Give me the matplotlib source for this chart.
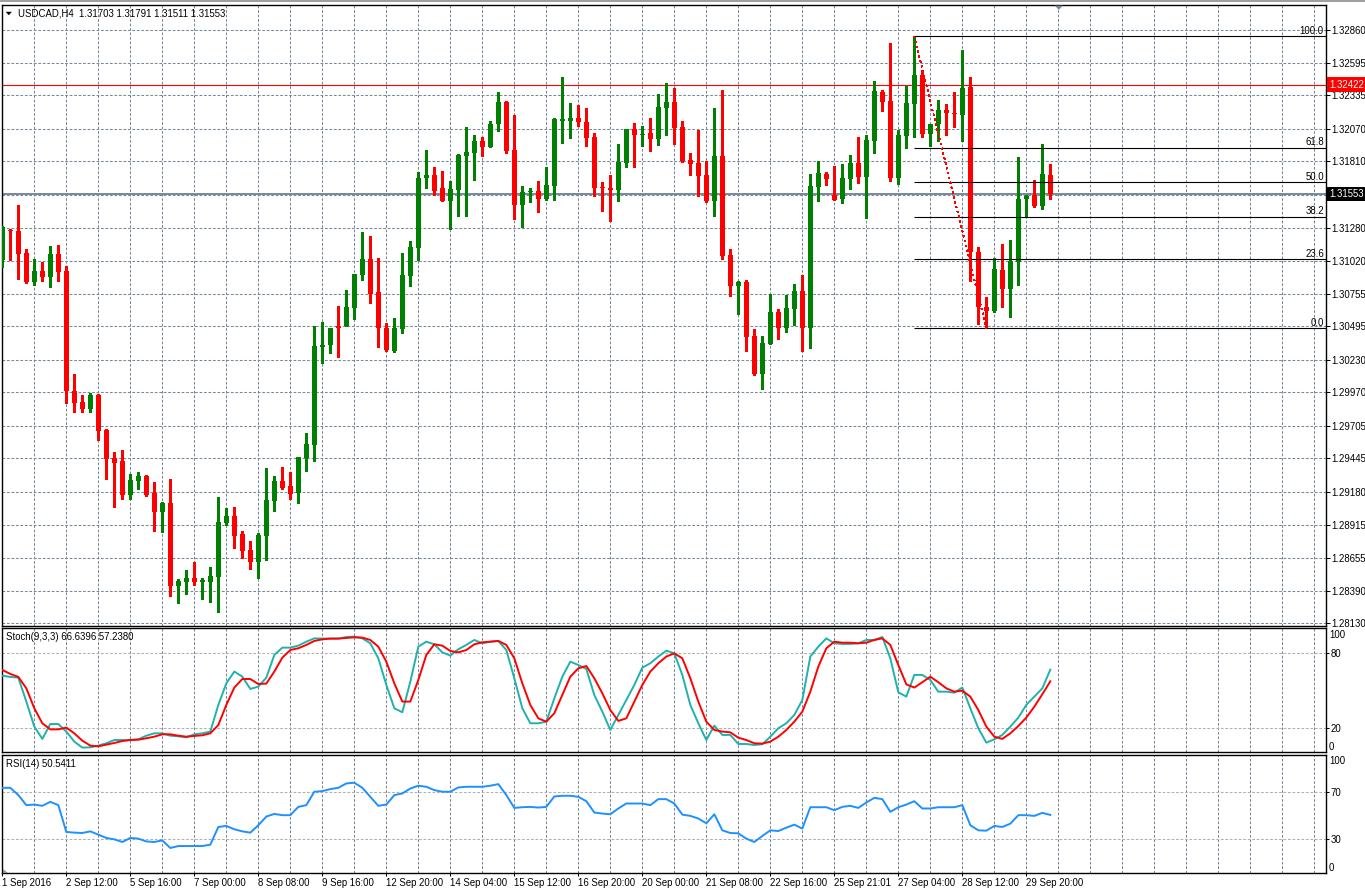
import numpy as np
import matplotlib
matplotlib.use('Agg')
import matplotlib.pyplot as plt
from matplotlib.transforms import blended_transform_factory
from matplotlib.patches import Polygon

plt.rcParams['font.family'] = ['Liberation Sans', 'DejaVu Sans']

W, H = 1365, 892

# USDCAD H4 candles, one per bar (bar 0 = 1 Sep 2016)
open_ = [1.31022, 1.31266, 1.31253, 1.31080, 1.30851, 1.30936, 1.30891, 1.31070, 1.30936, 1.29985,
         1.29890, 1.29839, 1.29948, 1.29668, 1.29445, 1.29421, 1.29153, 1.29266, 1.29302, 1.29168,
         1.29019, 1.29086, 1.28428, 1.28457, 1.28489, 1.28460, 1.28460, 1.28500, 1.28933, 1.28985,
         1.28839, 1.28714, 1.28619, 1.28826, 1.29107, 1.29262, 1.29223, 1.29171, 1.29445, 1.29552,
         1.30333, 1.30348, 1.30497, 1.30497, 1.30641, 1.30906, 1.31031, 1.30769, 1.30482, 1.30299,
         1.30473, 1.30900, 1.31122, 1.31680, 1.31702, 1.31598, 1.31497, 1.31580, 1.31854, 1.31875,
         1.31973, 1.31927, 1.32107, 1.32281, 1.31900, 1.31464, 1.31570, 1.31574, 1.31510, 1.31613,
         1.32135, 1.32132, 1.32156, 1.32122, 1.32003, 1.31607, 1.31598, 1.31580, 1.31796, 1.32068,
         1.32022, 1.32034, 1.31988, 1.32235, 1.32281, 1.32083, 1.31820, 1.31796, 1.31702, 1.31494,
         1.31851, 1.31064, 1.30820, 1.30848, 1.30418, 1.30116, 1.30357, 1.30610, 1.30482, 1.30635,
         1.30778, 1.30482, 1.31607, 1.31708, 1.31540, 1.31510, 1.31671, 1.31796, 1.31686, 1.31973,
         1.32363, 1.32290, 1.31677, 1.32013, 1.32269, 1.32500, 1.32028, 1.32110, 1.32220, 1.32199,
         1.32180, 1.32403, 1.31086, 1.30653, 1.30619, 1.30942, 1.30796, 1.31010, 1.31507, 1.31540,
         1.31458, 1.31703]
high = [1.31296, 1.31275, 1.31461, 1.31110, 1.31031, 1.31006, 1.31135, 1.31144, 1.30976, 1.30116,
        1.29951, 1.29964, 1.29955, 1.29680, 1.29494, 1.29509, 1.29323, 1.29336, 1.29314, 1.29253,
        1.29101, 1.29278, 1.28487, 1.28553, 1.28617, 1.28489, 1.28577, 1.29140, 1.29046, 1.29055,
        1.28863, 1.28787, 1.28848, 1.29369, 1.29302, 1.29378, 1.29336, 1.29455, 1.29644, 1.30497,
        1.30534, 1.30482, 1.30656, 1.30784, 1.30912, 1.31247, 1.31214, 1.31040, 1.30522, 1.30564,
        1.31080, 1.31174, 1.31723, 1.31903, 1.31766, 1.31732, 1.31656, 1.31869, 1.32083, 1.32022,
        1.32006, 1.32135, 1.32363, 1.32290, 1.32180, 1.31613, 1.31601, 1.31653, 1.31766, 1.32156,
        1.32482, 1.32275, 1.32260, 1.32235, 1.32034, 1.31644, 1.31702, 1.31952, 1.32071, 1.32113,
        1.32089, 1.32156, 1.32348, 1.32433, 1.32394, 1.32132, 1.31875, 1.32058, 1.31811, 1.32235,
        1.32382, 1.31110, 1.30860, 1.30863, 1.30476, 1.30418, 1.30750, 1.30631, 1.30744, 1.30836,
        1.30903, 1.31708, 1.31814, 1.31723, 1.31772, 1.31793, 1.31860, 1.32006, 1.32019, 1.32446,
        1.32378, 1.32754, 1.32058, 1.32412, 1.32805, 1.32537, 1.32110, 1.32299, 1.32263, 1.32363,
        1.32699, 1.32482, 1.31128, 1.30732, 1.31043, 1.31153, 1.31183, 1.31845, 1.31540, 1.31665,
        1.31949, 1.31791]
low = [1.30970, 1.31022, 1.30875, 1.30839, 1.30823, 1.30860, 1.30811, 1.30860, 1.29884, 1.29811,
       1.29811, 1.29811, 1.29595, 1.29281, 1.29055, 1.29122, 1.29122, 1.29201, 1.29144, 1.28866,
       1.28857, 1.28351, 1.28293, 1.28367, 1.28439, 1.28325, 1.28301, 1.28221, 1.28918, 1.28729,
       1.28650, 1.28561, 1.28491, 1.28637, 1.29028, 1.29198, 1.29122, 1.29086, 1.29345, 1.29424,
       1.30205, 1.30284, 1.30253, 1.30497, 1.30558, 1.30863, 1.30680, 1.30330, 1.30299, 1.30290,
       1.30442, 1.30817, 1.31025, 1.31601, 1.31540, 1.31497, 1.31272, 1.31378, 1.31378, 1.31662,
       1.31854, 1.31927, 1.32052, 1.31875, 1.31351, 1.31287, 1.31488, 1.31409, 1.31500, 1.31500,
       1.31955, 1.31994, 1.32089, 1.31930, 1.31534, 1.31415, 1.31339, 1.31494, 1.31769, 1.31763,
       1.31936, 1.31891, 1.31939, 1.32019, 1.31952, 1.31805, 1.31702, 1.31537, 1.31488, 1.31378,
       1.31031, 1.30738, 1.30595, 1.30302, 1.30107, 1.29997, 1.30357, 1.30397, 1.30452, 1.30506,
       1.30296, 1.30327, 1.31497, 1.31625, 1.31500, 1.31479, 1.31589, 1.31641, 1.31360, 1.31878,
       1.32214, 1.31656, 1.31628, 1.31918, 1.32006, 1.32006, 1.31933, 1.31973, 1.32019, 1.32086,
       1.31973, 1.30860, 1.30513, 1.30482, 1.30610, 1.30653, 1.30573, 1.30823, 1.31363, 1.31448,
       1.31433, 1.31511]
close = [1.31290, 1.31253, 1.31074, 1.30848, 1.30936, 1.30891, 1.31070, 1.30930, 1.29979, 1.29887,
         1.29839, 1.29948, 1.29665, 1.29439, 1.29406, 1.29153, 1.29272, 1.29302, 1.29153, 1.29019,
         1.29086, 1.28430, 1.28465, 1.28489, 1.28460, 1.28473, 1.28505, 1.28942, 1.28988, 1.28826,
         1.28704, 1.28619, 1.28832, 1.29110, 1.29262, 1.29207, 1.29162, 1.29455, 1.29558, 1.30339,
         1.30345, 1.30482, 1.30485, 1.30650, 1.30912, 1.31031, 1.30756, 1.30482, 1.30305, 1.30482,
         1.30903, 1.31128, 1.31677, 1.31702, 1.31577, 1.31497, 1.31589, 1.31860, 1.31885, 1.31973,
         1.31927, 1.32107, 1.32281, 1.31891, 1.31464, 1.31564, 1.31577, 1.31510, 1.31622, 1.32147,
         1.32144, 1.32156, 1.32122, 1.31997, 1.31598, 1.31601, 1.31580, 1.31805, 1.32071, 1.32019,
         1.32031, 1.31988, 1.32241, 1.32281, 1.32074, 1.31811, 1.31790, 1.31692, 1.31494, 1.31851,
         1.31058, 1.30820, 1.30848, 1.30412, 1.30116, 1.30363, 1.30610, 1.30482, 1.30641, 1.30778,
         1.30482, 1.31613, 1.31717, 1.31671, 1.31500, 1.31677, 1.31796, 1.31686, 1.31979, 1.32369,
         1.32284, 1.31677, 1.32022, 1.32278, 1.32500, 1.32028, 1.32110, 1.32220, 1.32199, 1.32189,
         1.32394, 1.31089, 1.30653, 1.30619, 1.30951, 1.30796, 1.31019, 1.31510, 1.31534, 1.31458,
         1.31708, 1.31553]

stoch_k = [61.8, 60.8, 60.2, 40.9, 20.7, 10.8, 22.8, 22.8, 16.7, 8.6,
           3.8, 4.0, 5.4, 7.3, 9.9, 9.9, 9.9, 10.5, 13.4, 15.3,
           15.3, 13.4, 12.9, 12.1, 14.5, 15.3, 16.7, 38.2, 55.6, 65.1,
           61.0, 51.1, 53.0, 60.2, 78.5, 84.4, 84.4, 86.0, 89.2, 91.9,
           91.7, 91.7, 91.7, 93.0, 93.3, 91.9, 87.9, 75.8, 54.3, 35.5,
           32.3, 57.0, 85.2, 89.2, 87.1, 80.6, 78.0, 83.1, 86.6, 90.6,
           87.9, 89.2, 89.8, 82.5, 59.7, 35.5, 23.4, 23.4, 24.7, 43.5,
           61.0, 73.1, 70.4, 67.2, 46.2, 32.8, 18.0, 30.1, 42.2, 54.3,
           68.3, 71.8, 77.2, 82.0, 79.8, 62.4, 38.2, 23.4, 9.9, 21.5,
           14.0, 14.0, 6.7, 6.7, 5.9, 6.5, 12.6, 19.4, 23.4, 30.1,
           42.2, 77.2, 85.2, 91.9, 87.9, 87.4, 87.4, 87.9, 90.6, 90.6,
           93.0, 75.8, 48.4, 44.9, 62.4, 62.4, 58.3, 48.9, 48.9, 48.1,
           52.2, 35.5, 19.4, 7.8, 10.5, 14.0, 20.7, 28.0, 38.2, 44.9,
           51.6, 66.6396]
stoch_d = [66.4, 63.2, 60.8, 51.6, 35.5, 23.4, 18.5, 18.5, 19.9, 15.3,
           9.4, 5.4, 4.8, 6.2, 7.5, 9.1, 9.9, 10.2, 11.3, 12.6,
           14.5, 14.5, 13.4, 12.6, 13.2, 13.7, 15.3, 22.0, 38.2, 52.2,
           59.1, 59.1, 55.1, 55.4, 65.1, 76.3, 82.5, 83.9, 86.6, 89.8,
           91.1, 91.7, 91.7, 92.2, 92.7, 92.5, 90.6, 85.2, 73.1, 55.6,
           40.9, 40.9, 58.3, 78.5, 87.1, 86.0, 81.7, 80.6, 82.5, 87.1,
           88.7, 89.2, 89.8, 86.6, 75.8, 55.6, 38.2, 27.4, 24.7, 31.5,
           46.2, 61.0, 67.7, 69.6, 59.7, 47.6, 34.1, 25.3, 27.4, 40.9,
           54.3, 65.1, 71.8, 77.2, 79.8, 75.8, 59.7, 40.9, 24.7, 18.0,
           16.7, 16.1, 11.8, 9.9, 7.3, 7.0, 8.6, 12.6, 18.0, 24.7,
           32.8, 48.9, 69.1, 83.9, 89.2, 88.4, 88.4, 87.9, 88.4, 90.6,
           91.9, 86.6, 70.4, 54.8, 52.2, 56.5, 61.0, 56.5, 51.6, 48.9,
           49.7, 44.9, 34.1, 20.7, 12.6, 10.8, 15.3, 21.2, 28.0, 36.8,
           46.8, 57.2380]
rsi = [74.0, 74.0, 67.7, 59.0, 59.5, 58.4, 61.9, 59.0, 35.8, 35.2,
       34.9, 36.3, 33.4, 30.6, 29.4, 27.1, 30.6, 30.0, 27.6, 27.1,
       28.5, 21.9, 23.6, 23.6, 23.6, 23.6, 24.8, 40.1, 41.0, 38.1,
       36.3, 35.2, 41.6, 49.1, 51.4, 50.3, 50.3, 57.5, 59.0, 70.6,
       71.1, 72.9, 74.0, 77.8, 78.4, 74.0, 66.2, 58.4, 59.5, 67.7,
       69.1, 73.4, 75.8, 74.9, 72.0, 70.6, 70.6, 74.3, 74.9, 74.9,
       74.9, 75.8, 77.2, 67.7, 56.6, 57.2, 57.5, 56.9, 57.5, 66.5,
       67.1, 67.1, 66.2, 62.4, 52.6, 51.7, 51.1, 56.1, 60.4, 60.4,
       60.4, 59.0, 64.2, 64.2, 60.4, 50.8, 49.7, 47.4, 43.3, 51.1,
       37.2, 34.9, 34.6, 30.0, 27.1, 32.3, 37.2, 36.6, 39.5, 42.1,
       38.7, 57.2, 57.2, 57.2, 54.6, 57.5, 58.4, 56.6, 61.3, 65.3,
       64.2, 53.2, 57.2, 59.5, 62.4, 56.1, 56.1, 57.2, 57.2, 57.2,
       59.0, 41.6, 37.2, 36.9, 41.0, 40.1, 43.0, 50.3, 50.3, 49.7,
       52.3, 50.5411]

date_labels = ['1 Sep 2016', '2 Sep 12:00', '5 Sep 16:00', '7 Sep 00:00', '8 Sep 08:00',
               '9 Sep 16:00', '12 Sep 20:00', '14 Sep 04:00', '15 Sep 12:00', '16 Sep 20:00',
               '20 Sep 00:00', '21 Sep 08:00', '22 Sep 16:00', '25 Sep 21:01', '27 Sep 04:00',
               '28 Sep 12:00', '29 Sep 20:00']
price_labels = ['1.32860', '1.32595', '1.32335', '1.32070', '1.31810', '1.31545', '1.31280',
                '1.31020', '1.30755', '1.30495', '1.30230', '1.29970', '1.29705', '1.29445',
                '1.29180', '1.28915', '1.28655', '1.28390', '1.28130']
resistance = 1.32422
fib_bars = [114, 123]           # swing high bar, swing low bar
fib_levels = [100.0, 61.8, 50.0, 38.2, 23.6, 0.0]
stoch_levels = [80, 20]
rsi_levels = [70, 30]

GRID = '#778899'
GREEN = '#008000'
RED = '#FF0000'
FS = 6.9
DASH = (0, (2.6, 1.7))
XMAX = 165.46

fig = plt.figure(figsize=(W / 100, H / 100), dpi=100)


def panel(top, bottom):
    ax = fig.add_axes([2 / W, 1 - bottom / H, 1324 / W, (bottom - top) / H])
    ax.set_xlim(-0.04, XMAX)
    for s in ax.spines.values():
        s.set_linewidth(1.0)
        s.set_color('black')
    for k in range(0, 166, 4):
        ax.axvline(k, color=GRID, lw=0.75, ls=DASH, zorder=0)
    ax.yaxis.tick_right()
    ax.tick_params(axis='y', length=2.0, width=0.75, pad=1.0, labelsize=FS)
    ax.tick_params(axis='x', bottom=False, labelbottom=False)
    return ax


# ---- main price panel ----
ax = panel(5.4, 626)
ax.set_ylim(1.28110, 1.33052)
ticks = [float(t) for t in price_labels]
ax.set_yticks(ticks)
ax.set_yticklabels([t if t != '1.31545' else '' for t in price_labels])
ax.tick_params(axis='y', length=2.6, pad=1.2)
for t in ticks:
    ax.axhline(t, color=GRID, lw=0.75, ls=DASH, zorder=0)

o = np.array(open_)
c = np.array(close)
x = np.arange(len(c))
cols = np.where(c >= o, GREEN, RED)
ax.vlines(x, low, high, colors=cols, lw=0.8, antialiased=False, zorder=3)
mid = (o + c) / 2
hgt = np.maximum(np.abs(c - o), 0.00009)
ax.bar(x, hgt, bottom=mid - hgt / 2, width=0.64, color=cols, linewidth=0,
       antialiased=False, zorder=4)

tr = blended_transform_factory(ax.transAxes, ax.transData)
ax.axhline(resistance, color=RED, lw=0.8, zorder=2)
ax.axhline(close[-1], color=GRID, lw=1.4, zorder=2)

# fibonacci retracement
hi_bar, lo_bar = fib_bars
p100, p0 = high[hi_bar], low[lo_bar]
for lv in fib_levels:
    p = p0 + (p100 - p0) * lv / 100
    ax.hlines(p, hi_bar, XMAX, color='black', lw=0.8, zorder=5)
    ax.annotate(f'{lv:.1f}', xy=(1, p), xycoords=tr, xytext=(-1.5, 0.3),
                textcoords='offset points', ha='right', va='bottom', fontsize=FS)
ax.plot([hi_bar, lo_bar], [p100, p0], color=RED, lw=0.9, ls=(0, (1.2, 2.4)),
        antialiased=False, zorder=6)

for val, fc in [(resistance, RED), (close[-1], 'black')]:
    ax.annotate(f'{val:.5f}', xy=(1, val), xycoords=tr, xytext=(2.2, 0),
                textcoords='offset points', ha='left', va='center', fontsize=FS,
                color='white', annotation_clip=False,
                bbox=dict(boxstyle='square,pad=0.22', fc=fc, ec='none'))

# ---- stochastic panel ----
axs = panel(628.3, 752.3)
axs.set_ylim(0, 100)
axs.plot(x, stoch_k, color='#20B2AA', lw=1.4, zorder=3)
axs.plot(x, stoch_d, color=RED, lw=1.4, zorder=4)
for lv in stoch_levels:
    axs.axhline(lv, color='#B0B0B0', lw=0.75, ls=DASH, zorder=1)
axs.set_yticks(stoch_levels)
axs.set_yticklabels([str(v) for v in stoch_levels])
trs = blended_transform_factory(axs.transAxes, axs.transData)
axs.text(1.0023, 94.6, '100', transform=trs, va='center', ha='left', fontsize=FS)
axs.text(1.0023, 4.5, '0', transform=trs, va='center', ha='left', fontsize=FS)

# ---- RSI panel ----
axr = panel(755, 873.3)
axr.set_ylim(0, 102.4)
axr.plot(x, rsi, color='#1E90FF', lw=1.4, zorder=3)
for lv in rsi_levels:
    axr.axhline(lv, color='#B0B0B0', lw=0.75, ls=DASH, zorder=1)
axr.set_yticks(rsi_levels)
axr.set_yticklabels([str(v) for v in rsi_levels])
trr = blended_transform_factory(axr.transAxes, axr.transData)
axr.text(1.0023, 97, '100', transform=trr, va='center', ha='left', fontsize=FS)
axr.text(1.0023, 5, '0', transform=trr, va='center', ha='left', fontsize=FS)
axr.set_xticks(np.arange(0, 8 * len(date_labels), 8))
axr.set_xticklabels(date_labels, ha='left')
axr.tick_params(axis='x', bottom=True, labelbottom=True, length=2.2, width=0.75,
                pad=1.0, labelsize=FS, direction='out')

# ---- header texts ----
title = f'USDCAD,H4  {open_[-1]:.5f} {high[-1]:.5f} {low[-1]:.5f} {close[-1]:.5f}'
fig.text(17.5 / W, 1 - 13.4 / H, title, fontsize=FS, va='center', ha='left')
fig.text(6 / W, 1 - 637 / H, f'Stoch(9,3,3) {stoch_k[-1]:.4f} {stoch_d[-1]:.4f}',
         fontsize=FS, va='center', ha='left')
fig.text(6 / W, 1 - 764 / H, f'RSI(14) {rsi[-1]:.4f}', fontsize=FS, va='center', ha='left')


def px(pts):
    return [(a / W, 1 - b / H) for a, b in pts]


fig.patches.append(Polygon(px([(5.7, 11.8), (11.9, 11.8), (8.8, 15.2)]), closed=True,
                           fc='black', ec='none', transform=fig.transFigure))
fig.patches.append(Polygon(px([(1054.8, 5.6), (1062.8, 5.6), (1058.8, 9.8)]), closed=True,
                           fc=GRID, ec='none', transform=fig.transFigure))
fig.patches.append(Polygon(px([(2.5, 868.5), (2.5, 873), (7.5, 873)]), closed=True,
                           fc='#909090', ec='none', transform=fig.transFigure))
fig.patches.append(Polygon(px([(0, 0), (W, 0), (W, 2), (0, 2)]), closed=True,
                           fc='#A0A0A0', ec='none', transform=fig.transFigure))

fig.savefig('out.png', dpi=100)
